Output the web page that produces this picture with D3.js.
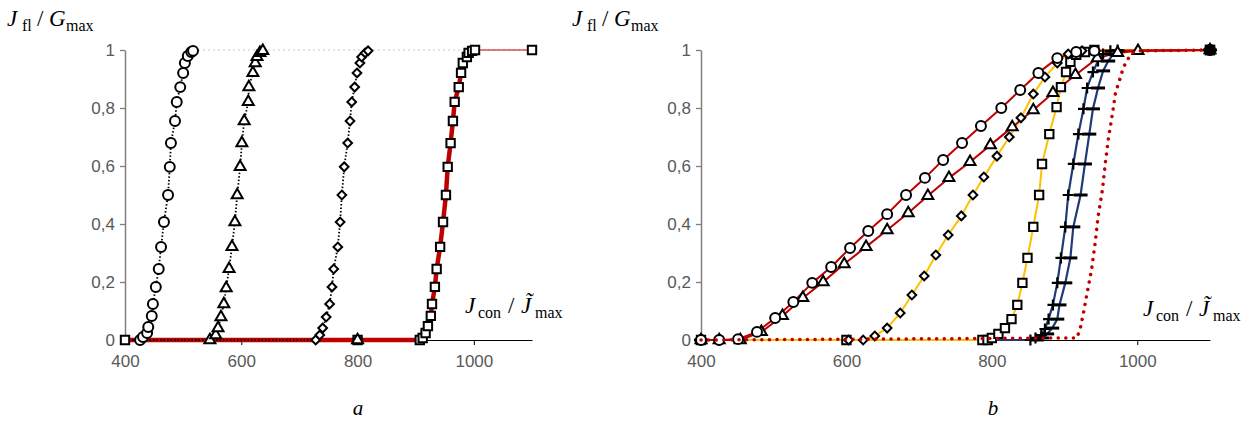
<!DOCTYPE html>
<html>
<head>
<meta charset="utf-8">
<script src="https://cdn.jsdelivr.net/npm/d3@7"></script>
<style>
  body { margin: 0; background: #fff; }
  svg { display: block; }
</style>
</head>
<body>
<div id="main"></div>
<script>
// ---- data ----
const yTicks = [0, 0.2, 0.4, 0.6, 0.8, 1];
const xTicks = [400, 600, 800, 1000];

// panel a
const aCircleX = [400, 426, 431, 438, 440, 446, 448, 453, 458, 462, 467, 474, 477, 479, 486, 489, 495, 500, 503, 508, 514, 517];
const aCircleY = [0, 0, 0.01, 0.024, 0.045, 0.083, 0.124, 0.183, 0.245, 0.321, 0.407, 0.5, 0.597, 0.679, 0.755, 0.821, 0.872, 0.921, 0.955, 0.979, 0.993, 0.997];
const aTriX = [400, 546, 556, 560, 565, 570, 574, 579, 584, 589, 593, 598, 601, 605, 612, 613, 620, 624, 627, 632, 637];
const aTriY = [0, 0, 0.017, 0.041, 0.079, 0.124, 0.179, 0.245, 0.321, 0.407, 0.5, 0.597, 0.679, 0.755, 0.821, 0.872, 0.921, 0.955, 0.976, 0.99, 0.997];
const aDiaX = [400, 728, 735, 740, 746, 752, 756, 759, 766, 770, 773, 777, 783, 787, 790, 795, 799, 804, 807, 813, 818];
const aDiaY = [0, 0, 0.017, 0.041, 0.079, 0.124, 0.183, 0.245, 0.321, 0.407, 0.5, 0.597, 0.679, 0.755, 0.821, 0.872, 0.921, 0.955, 0.976, 0.99, 0.997];
const aSqX = [400, 800, 907, 912, 917, 921, 926, 928, 933, 936, 942, 947, 952, 955, 960, 964, 967, 974, 978, 981, 988, 991, 997, 1002];
const aSqY = [0, 0, 0, 0.007, 0.024, 0.048, 0.083, 0.124, 0.183, 0.245, 0.321, 0.407, 0.5, 0.597, 0.679, 0.755, 0.821, 0.872, 0.921, 0.955, 0.976, 0.99, 0.997, 1];
const aEndX = [1002, 1100];
const aEndY = [1, 1];

// panel b
const bCircleX = [400, 425, 451, 477, 502, 527, 553, 579, 605, 630, 656, 682, 708, 733, 759, 785, 813, 839, 864, 890, 916, 941, 1100];
const bCircleY = [0, 0, 0.003, 0.028, 0.076, 0.131, 0.197, 0.252, 0.317, 0.376, 0.434, 0.5, 0.559, 0.621, 0.679, 0.738, 0.8, 0.862, 0.921, 0.972, 0.993, 0.997, 1];
const bTriX = [400, 425, 454, 483, 512, 540, 568, 597, 627, 656, 685, 712, 741, 770, 798, 828, 857, 884, 915, 945, 973, 1001, 1100];
const bTriY = [0, 0, 0, 0.028, 0.083, 0.145, 0.2, 0.262, 0.321, 0.379, 0.438, 0.497, 0.559, 0.614, 0.672, 0.734, 0.793, 0.852, 0.914, 0.972, 0.99, 0.997, 1];
const bDiaX = [400, 603, 623, 639, 656, 674, 690, 707, 723, 740, 758, 774, 789, 807, 824, 840, 857, 873, 890, 905, 924, 1100];
const bDiaY = [0, 0, 0, 0.014, 0.041, 0.093, 0.155, 0.221, 0.293, 0.362, 0.428, 0.5, 0.562, 0.634, 0.7, 0.766, 0.848, 0.907, 0.955, 0.986, 0.997, 1];
const bSqX = [400, 600, 787, 794, 800, 809, 818, 827, 835, 842, 849, 857, 865, 869, 879, 889, 895, 902, 908, 916, 928, 941, 1100];
const bSqY = [0, 0, 0, 0, 0.007, 0.021, 0.041, 0.072, 0.121, 0.197, 0.283, 0.39, 0.5, 0.607, 0.71, 0.803, 0.872, 0.924, 0.959, 0.983, 0.993, 1, 1];
const bPlusX = [400, 853, 860, 868, 873, 878, 884, 890, 895, 901, 905, 912, 919, 926, 931, 939, 946, 953, 963, 973, 1100];
const bPlusY = [0, 0, 0.007, 0.017, 0.038, 0.072, 0.121, 0.197, 0.283, 0.39, 0.5, 0.607, 0.71, 0.797, 0.869, 0.924, 0.962, 0.986, 0.997, 1, 1];
const bMinusX = [400, 862, 869, 876, 883, 890, 893, 901, 908, 912, 922, 928, 934, 939, 946, 953, 960, 967, 973, 1100];
const bMinusY = [0, 0, 0.007, 0.021, 0.041, 0.072, 0.121, 0.197, 0.283, 0.39, 0.5, 0.607, 0.71, 0.797, 0.869, 0.928, 0.962, 0.986, 0.997, 1];
const bDotX = [400, 917, 922, 926, 931, 937, 942, 946, 952, 956, 960, 966, 970, 977, 981, 988, 993, 1004, 1100];
const bDotY = [0, 0.007, 0.045, 0.093, 0.162, 0.241, 0.334, 0.424, 0.517, 0.61, 0.69, 0.783, 0.852, 0.907, 0.941, 0.972, 0.99, 0.997, 1];

// ---- layout ----
const W = 1250, H = 426;
const y = d3.scaleLinear().domain([0, 1]).range([340, 50]);
const xa = d3.scaleLinear().domain([400, 1100]).range([125, 532]);
const xb = d3.scaleLinear().domain([400, 1100]).range([701, 1210]);

const svg = d3.select('#main').append('svg')
    .attr('width', W).attr('height', H)
    .style('background', '#fff');

const RED = '#c00000', YEL = '#ffc000', NAVY = '#1f3a78';
const fmt = d => d === 0 ? '0' : d === 1 ? '1' : String(d).replace('.', ',');

// marker shapes
const symCircle = d3.symbol().type(d3.symbolCircle).size(78)();
const symSquare = d3.symbol().type(d3.symbolSquare).size(70)();
const symTri = d3.symbol().type(d3.symbolTriangle).size(52)();
const symDia = d3.symbol().type(d3.symbolSquare).size(38)();
const symPlus = 'M-5.5,0H5.5M0,-5.5V5.5';
const symMinus = 'M-7,0H7';

function pts(xs, ys) { return xs.map((v, i) => [v, ys[i]]); }

function drawLine(g, x, data, style) {
    g.append('path')
        .datum(data)
        .attr('fill', 'none')
        .attr('stroke', style.color)
        .attr('stroke-width', style.width)
        .attr('stroke-dasharray', style.dash || null)
        .attr('stroke-linecap', style.cap || 'butt')
        .attr('stroke-linejoin', 'round')
        .attr('d', d3.line().x(d => x(d[0])).y(d => y(d[1])));
}

function drawMarks(g, x, data, shape, opt) {
    opt = opt || {};
    g.selectAll(null)
        .data(data)
        .enter()
        .append('path')
        .attr('d', shape)
        .attr('transform', d => 'translate(' + x(d[0]) + ',' + y(d[1]) + ')' + (opt.rot ? ' rotate(45)' : ''))
        .attr('fill', opt.fill || '#fff')
        .attr('stroke', '#000')
        .attr('stroke-width', opt.sw || 2);
}

function drawAxes(x) {
    const yAxis = d3.axisLeft(y).tickValues(yTicks).tickFormat(fmt).tickSize(5).tickSizeOuter(0).tickPadding(5);
    const gy = svg.append('g').attr('transform', 'translate(' + x.range()[0] + ',0)').call(yAxis);
    gy.select('.domain').attr('stroke', '#7f7f7f').attr('stroke-width', 1.5);
    gy.selectAll('.tick line').attr('stroke', '#7f7f7f').attr('stroke-width', 1.3);
    gy.selectAll('text').attr('fill', '#595959').style('font', '17px "Liberation Sans", Arial, sans-serif');

    const xAxis = d3.axisBottom(x).tickValues(xTicks).tickFormat(d3.format('d')).tickSize(5).tickSizeOuter(0).tickPadding(10);
    const gx = svg.append('g').attr('transform', 'translate(0,' + y(0) + ')').call(xAxis);
    gx.select('.domain').attr('stroke', '#000').attr('stroke-width', 1);
    gx.selectAll('.tick line').attr('stroke', '#000');
    gx.selectAll('text').attr('fill', '#595959').style('font', '17px "Liberation Sans", Arial, sans-serif');
}

// ---- panel a ----
drawAxes(xa);
const ga = svg.append('g');
drawLine(ga, xa, [[517, 1], [1100, 1]], { color: '#c8c8c8', width: 1, dash: '2,3' });
drawLine(ga, xa, pts(aSqX, aSqY), { color: RED, width: 4.5 });
drawLine(ga, xa, pts(aEndX, aEndY), { color: RED, width: 1.2 });
drawLine(ga, xa, pts(aCircleX, aCircleY), { color: '#000', width: 1.8, dash: '1.5,2' });
drawLine(ga, xa, pts(aTriX, aTriY), { color: '#000', width: 1.8, dash: '1.5,2' });
drawLine(ga, xa, pts(aDiaX, aDiaY), { color: '#000', width: 1.8, dash: '1.5,2' });
drawMarks(ga, xa, pts(aCircleX, aCircleY).slice(1), symCircle);
drawMarks(ga, xa, pts(aTriX, aTriY).slice(1), symTri);
drawMarks(ga, xa, pts(aDiaX, aDiaY).slice(1), symDia, { rot: true });
drawMarks(ga, xa, pts(aSqX, aSqY).concat([[1100, 1]]), symSquare);
drawMarks(ga, xa, [[800, 0]], symTri);

// ---- panel b ----
drawAxes(xb);
const gb = svg.append('g');
drawLine(gb, xb, pts(bPlusX, bPlusY), { color: NAVY, width: 2.2 });
drawLine(gb, xb, pts(bMinusX, bMinusY), { color: NAVY, width: 2.2 });
drawLine(gb, xb, pts(bSqX, bSqY), { color: YEL, width: 2 });
drawLine(gb, xb, pts(bDiaX, bDiaY), { color: YEL, width: 2 });
drawLine(gb, xb, pts(bTriX, bTriY), { color: RED, width: 2 });
drawLine(gb, xb, pts(bCircleX, bCircleY), { color: RED, width: 2 });
drawMarks(gb, xb, pts(bPlusX, bPlusY), symPlus, { sw: 2.2 });
drawMarks(gb, xb, pts(bMinusX, bMinusY), symMinus, { sw: 3 });
drawMarks(gb, xb, pts(bSqX, bSqY), symSquare);
drawMarks(gb, xb, pts(bDiaX, bDiaY), symDia, { rot: true });
drawMarks(gb, xb, pts(bTriX, bTriY), symTri);
drawMarks(gb, xb, pts(bCircleX, bCircleY), symCircle);
drawLine(gb, xb, pts(bDotX, bDotY), { color: RED, width: 3.5, dash: '0.1,7.5', cap: 'round' });
drawMarks(gb, xb, [[1100, 1]], symSquare, { fill: '#000' });

// ---- labels ----
const serif = '"Liberation Serif", "Times New Roman", serif';

// text pieces with x offsets from the label start, measured on the picture
function mathLabel(x0, y0, parts) {
    const t = svg.append('text').attr('y', y0)
        .style('font-family', serif).attr('fill', '#000');
    parts.forEach(p => {
        t.append('tspan')
            .attr('x', x0 + p.dx)
            .attr('y', y0 + (p.sub ? 5 : 0))
            .style('font-size', p.sub ? '16px' : '23px')
            .style('font-style', p.it ? 'italic' : 'normal')
            .text(p.s);
    });
}

const yTitleParts = [
    { s: 'J', dx: 0, it: true }, { s: 'fl', dx: 15, sub: true },
    { s: '/', dx: 30 }, { s: 'G', dx: 42, it: true }, { s: 'max', dx: 59, sub: true }
];
const xTitleParts = [
    { s: 'J', dx: 0, it: true }, { s: 'con', dx: 13, sub: true },
    { s: '/', dx: 43 }, { s: 'J\u0303', dx: 56, it: true }, { s: 'max', dx: 70, sub: true }
];

mathLabel(7, 26, yTitleParts);
mathLabel(572, 26, yTitleParts);
mathLabel(465, 313, xTitleParts);
mathLabel(1143, 316, xTitleParts);

svg.append('text').attr('x', 358).attr('y', 415)
    .style('font-family', serif).style('font-size', '21px').style('font-style', 'italic')
    .attr('text-anchor', 'middle').text('a');
svg.append('text').attr('x', 993).attr('y', 415)
    .style('font-family', serif).style('font-size', '21px').style('font-style', 'italic')
    .attr('text-anchor', 'middle').text('b');
</script>
</body>
</html>
